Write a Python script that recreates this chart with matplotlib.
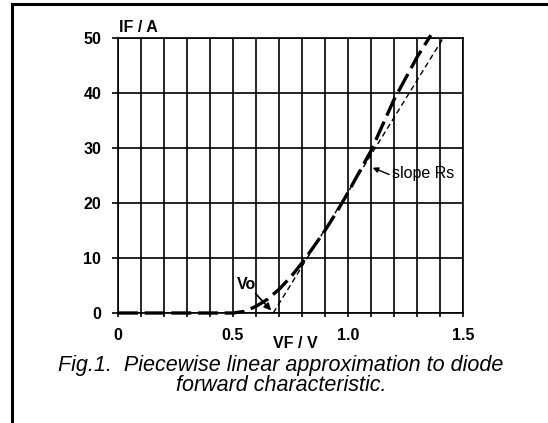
import matplotlib
matplotlib.use("Agg")
import matplotlib.pyplot as plt
from matplotlib.lines import Line2D

# Data
vf_curve = [0.0, 0.5, 0.55, 0.6, 0.65, 0.7, 0.75, 0.8, 0.85, 0.9, 0.95, 1.0, 1.1, 1.2, 1.3, 1.36]
if_curve = [0.0, 0.0, 0.3, 1.2, 2.5, 4.3, 6.5, 9.1, 12.0, 15.0, 18.3, 21.9, 29.5, 38.8, 46.5, 50.5]
vf_linear = [0.675, 1.414]
if_linear = [0.0, 50.0]
x_ticks = [0, 0.5, 1.0, 1.5]
x_tick_labels = ["0", "0.5", "1.0", "1.5"]
y_ticks = [0, 10, 20, 30, 40, 50]
y_tick_labels = ["0", "10", "20", "30", "40", "50"]

plt.rcParams['font.family'] = ['Liberation Sans', 'DejaVu Sans']

fig = plt.figure(figsize=(5.48, 4.23), dpi=100)
ax = fig.add_axes([118/548, 1-313/423, (463-118)/548, (313-38)/423])
ax.set_xlim(0, 1.5)
ax.set_ylim(0, 50)

ax.set_xticks([i * 0.1 for i in range(16)], minor=True)
ax.set_xticks(x_ticks)
ax.set_xticklabels(x_tick_labels, fontsize=11.5, fontweight='bold')
ax.set_yticks(y_ticks)
ax.set_yticklabels(y_tick_labels, fontsize=11.5, fontweight='bold')
ax.tick_params(axis='both', which='both', direction='out', length=3, width=1.2, color='black')
ax.tick_params(axis='x', which='major', pad=8)
ax.tick_params(axis='y', which='major', pad=8, length=4)
ax.grid(True, which='both', color='black', linewidth=1.2)
for s in ax.spines.values():
    s.set_linewidth(1.2)

ax.plot(vf_curve, if_curve, color='black', linewidth=2.4, dashes=(6, 2), clip_on=False, zorder=5)
ax.plot(vf_linear, if_linear, color='black', linewidth=1.0, dashes=(4, 2.5), clip_on=False, zorder=5)

ax.annotate("", xy=(0.674, 0.1), xytext=(0.59, 3.9),
            arrowprops=dict(arrowstyle='-|>', color='black', lw=1.2, mutation_scale=10), zorder=6)
ax.text(0.515, 5.1, "Vo", fontsize=11.5, fontweight='bold', va='center', ha='left')

ax.annotate("", xy=(1.096, 26.6), xytext=(1.19, 25.0),
            arrowprops=dict(arrowstyle='-|>', color='black', lw=1.0, mutation_scale=8), zorder=6)
ax.text(1.19, 25.3, "slope Rs", fontsize=11.5, va='center', ha='left')

fig.text(119/548, 1-28/423, "IF / A", fontsize=11.5, fontweight='bold', va='center', ha='left')
fig.text(295/548, 1-343/423, "VF / V", fontsize=11.5, fontweight='bold', va='center', ha='center')

fig.text(281/548, 1-391/423,
         "Fig.1.  Piecewise linear approximation to diode\nforward characteristic.",
         fontsize=15.5, style='italic', va='baseline', ha='center', multialignment='center',
         linespacing=0.94)

# outer border (left and top)
fig.add_artist(Line2D([12/548, 12/548], [0, 1-4/423], transform=fig.transFigure, color='black', linewidth=2.2))
fig.add_artist(Line2D([12/548, 1], [1-4/423, 1-4/423], transform=fig.transFigure, color='black', linewidth=2.2))

fig.savefig("out.png", dpi=100)
